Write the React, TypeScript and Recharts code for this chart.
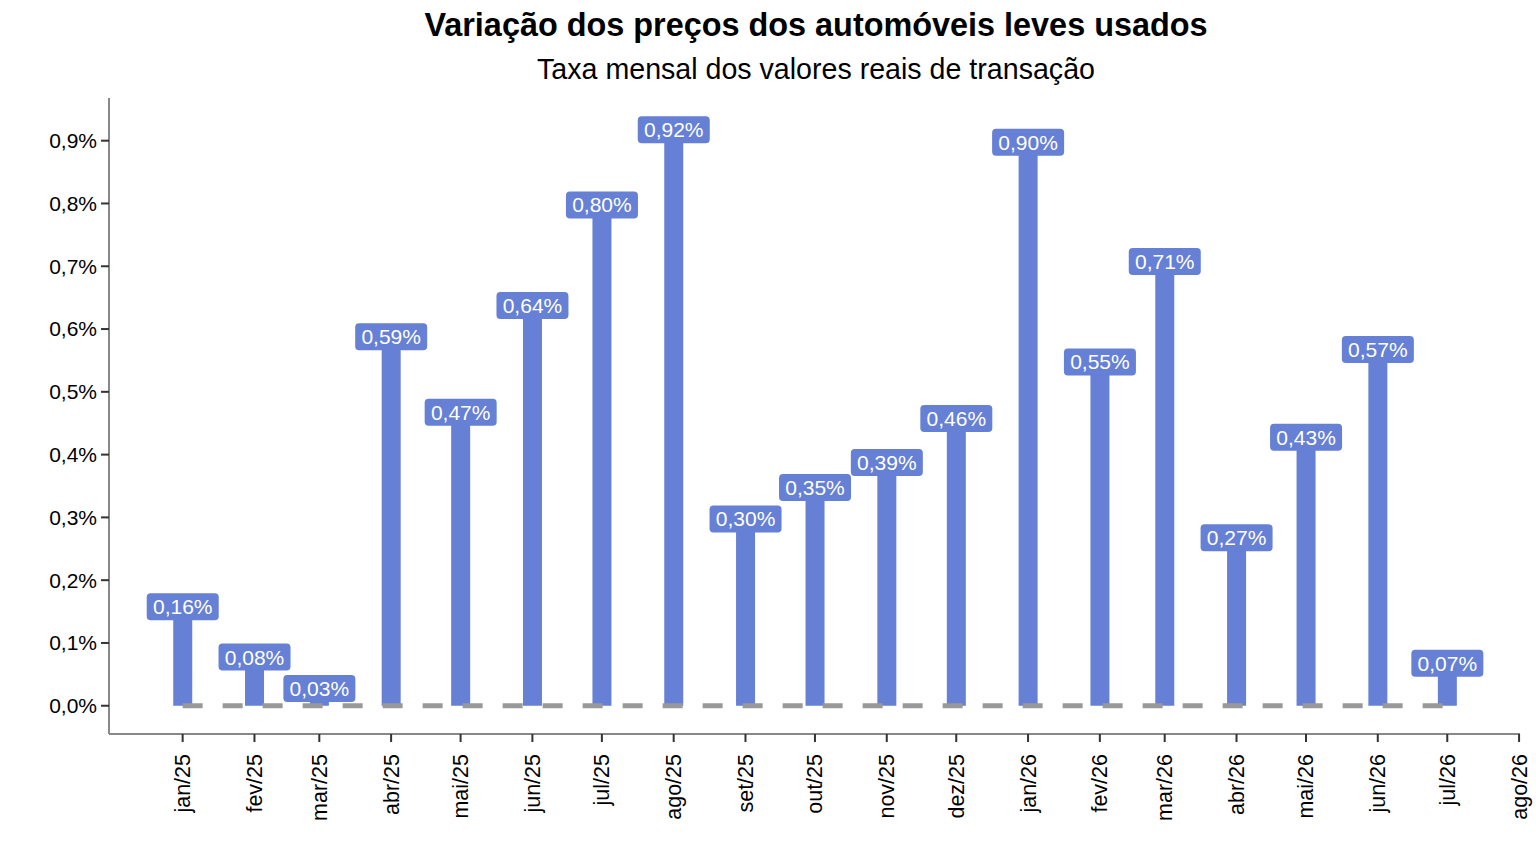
import React from "react";
import {
  ComposedChart,
  Bar,
  Line,
  XAxis,
  YAxis,
  LabelList,
} from "recharts";

// meses (primeiro dia de cada mês) e variação mensal em %
const meses: string[] = [
  "2025-01", "2025-02", "2025-03", "2025-04", "2025-05", "2025-06", "2025-07",
  "2025-08", "2025-09", "2025-10", "2025-11", "2025-12", "2026-01", "2026-02",
  "2026-03", "2026-04", "2026-05", "2026-06", "2026-07",
];

const variacao: number[] = [
  0.16, 0.08, 0.03, 0.59, 0.47, 0.64, 0.8, 0.92, 0.3, 0.35, 0.39, 0.46, 0.9,
  0.55, 0.71, 0.27, 0.43, 0.57, 0.07,
];

const tickMeses: string[] = [
  "2025-01", "2025-02", "2025-03", "2025-04", "2025-05", "2025-06", "2025-07",
  "2025-08", "2025-09", "2025-10", "2025-11", "2025-12", "2026-01", "2026-02",
  "2026-03", "2026-04", "2026-05", "2026-06", "2026-07", "2026-08",
];

const nomesMes = ["jan", "fev", "mar", "abr", "mai", "jun", "jul", "ago", "set", "out", "nov", "dez"];

const yTicks = [0, 0.1, 0.2, 0.3, 0.4, 0.5, 0.6, 0.7, 0.8, 0.9];

const toDay = (ym: string) => {
  const [y, m] = ym.split("-").map(Number);
  return Date.UTC(y, m - 1, 1) / 86400000;
};

const data = meses.map((m, i) => ({ dia: toDay(m), valor: variacao[i], base: 0 }));
const xTicks = tickMeses.map(toDay);
const xDomain = [toDay("2025-01") - 31.8, toDay("2026-08") + 0.4];

const FONT = "'Liberation Sans', Arial, sans-serif";
const AZUL = "#6580d5";

const fmtPct = (v: number) => v.toFixed(2).replace(".", ",") + "%";

const MesTick = (props: any) => {
  const { x, y, payload } = props;
  const d = new Date(payload.value * 86400000);
  const txt = nomesMes[d.getUTCMonth()] + "/" + String(d.getUTCFullYear()).slice(2);
  return (
    <text
      transform={`translate(${x + 7.5},${y + 10}) rotate(-90)`}
      textAnchor="end"
      fontSize={21.5}
      fontFamily={FONT}
      fill="#000"
    >
      {txt}
    </text>
  );
};

const Etiqueta = (props: any) => {
  const { x, y, width, value } = props;
  const cx = x + width / 2;
  return (
    <g>
      <rect x={cx - 36} y={y - 12} width={72} height={27} rx={4} fill={AZUL} />
      <text x={cx} y={y + 9} textAnchor="middle" fontSize={21} fontFamily={FONT} fill="#fff">
        {fmtPct(value)}
      </text>
    </g>
  );
};

export default function App() {
  return (
    <div style={{ position: "relative", width: 1536, height: 864, background: "#fff" }}>
      <style>{`body{margin:0}`}</style>
      <ComposedChart
        width={1536}
        height={864}
        data={data}
        margin={{ top: 98, right: 16, bottom: 0, left: 0 }}
      >
        <XAxis
          dataKey="dia"
          type="number"
          domain={xDomain}
          ticks={xTicks}
          interval={0}
          height={130}
          tick={<MesTick />}
          tickSize={8}
          axisLine={{ stroke: "#888", strokeWidth: 2 }}
          tickLine={{ stroke: "#333", strokeWidth: 2 }}
          allowDataOverflow
        />
        <YAxis
          type="number"
          domain={[-0.045, 0.968]}
          ticks={yTicks}
          width={109}
          tickSize={8}
          tickMargin={4}
          tickFormatter={(v: number) => v.toFixed(1).replace(".", ",") + "%"}
          tick={{ fontSize: 21, fontFamily: FONT, fill: "#000" }}
          axisLine={{ stroke: "#888", strokeWidth: 2 }}
          tickLine={{ stroke: "#333", strokeWidth: 2 }}
          allowDataOverflow
        />
        <Bar dataKey="valor" fill={AZUL} barSize={19} isAnimationActive={false}>
          <LabelList dataKey="valor" content={<Etiqueta />} />
        </Bar>
        <Line
          dataKey="base"
          stroke="#999"
          strokeWidth={5}
          strokeDasharray="20 20"
          dot={false}
          activeDot={false}
          isAnimationActive={false}
        />
      </ComposedChart>
      <svg
        width={1536}
        height={100}
        style={{ position: "absolute", left: 0, top: 0, pointerEvents: "none" }}
      >
        <text x={816} y={36} textAnchor="middle" fontSize={32.4} fontWeight="bold" fontFamily={FONT} fill="#000">
          Variação dos preços dos automóveis leves usados
        </text>
        <text x={816} y={79} textAnchor="middle" fontSize={28.6} fontFamily={FONT} fill="#000">
          Taxa mensal dos valores reais de transação
        </text>
      </svg>
    </div>
  );
}
